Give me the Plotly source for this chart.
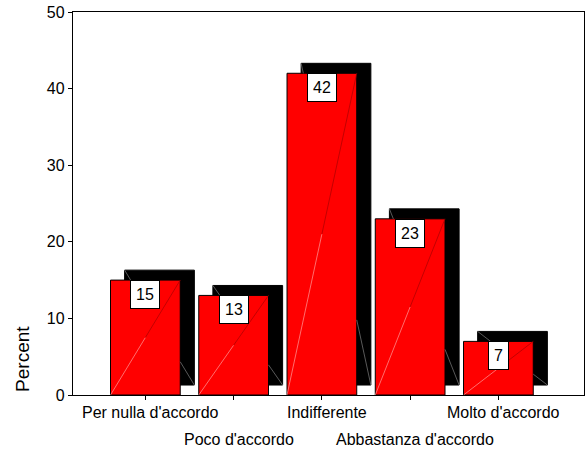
import plotly.graph_objects as go

# Data
categories = ["Per nulla d'accordo", "Poco d'accordo", "Indifferente",
              "Abbastanza d'accordo", "Molto d'accordo"]
percent = [15, 13, 42, 23, 7]
y_ticks = [0, 10, 20, 30, 40, 50]

# Style
bar_red = '#ff0000'
font_fam = 'Arial, Liberation Sans, sans-serif'
bar_w = 0.79          # bar width in category units
dx, dy = 0.16, 1.3    # shadow offset (x in category units, y in percent)

idx = list(range(len(categories)))

fig = go.Figure()

# Black "3D" shadow behind each bar
fig.add_bar(x=idx, y=percent, base=dy, offset=-bar_w / 2 + dx, width=bar_w,
            marker=dict(color='black', line=dict(color='black', width=1)),
            hoverinfo='skip')

# Red bars
fig.add_bar(x=idx, y=percent, width=bar_w,
            marker=dict(color=bar_red, line=dict(color='black', width=1)),
            hovertemplate='%{y}%<extra></extra>')

# Grey diagonal of the shadow box (top-left -> bottom-right),
# only the parts that stick out from behind the red bar
sx, sy = [], []
for i, v in zip(idx, percent):
    xs0 = i - bar_w / 2 + dx
    def pt(t):
        return xs0 + t * bar_w, v + dy - t * v
    t_top = dy / v
    t_right = (bar_w - dx) / bar_w
    for a, b in [(0, t_top), (t_right, 1)]:
        xa, ya = pt(a)
        xb, yb = pt(b)
        sx += [xa, xb, None]
        sy += [ya, yb, None]
fig.add_scatter(x=sx, y=sy, mode='lines', line=dict(color='#808080', width=0.7),
                hoverinfo='skip')

# Thin diagonal inside the red bars (pinkish lower half, dark upper half)
lx, ly, ux, uy = [], [], [], []
for i, v in zip(idx, percent):
    x0, x1 = i - bar_w / 2, i + bar_w / 2
    xm = (x0 + x1) / 2
    lx += [x0, xm, None]
    ly += [0, v / 2, None]
    ux += [xm, x1, None]
    uy += [v / 2, v, None]
fig.add_scatter(x=lx, y=ly, mode='lines', line=dict(color='#ff9c9c', width=0.7),
                hoverinfo='skip')
fig.add_scatter(x=ux, y=uy, mode='lines', line=dict(color='#a80000', width=0.7),
                hoverinfo='skip')

# Value boxes at the top of each bar
for i, v in zip(idx, percent):
    fig.add_annotation(x=i, y=v, text=str(v), showarrow=False,
                       xanchor='center', yanchor='top', yshift=0,
                       font=dict(family=font_fam, size=16, color='black'),
                       bgcolor='white', bordercolor='black', borderwidth=1,
                       borderpad=5)

# Staggered category labels
for i, lab in zip(idx, categories):
    fig.add_annotation(x=i, y=0, xref='x', yref='paper', text=lab,
                       showarrow=False, xanchor='center', yanchor='top',
                       xshift=5, yshift=-7 if i % 2 == 0 else -34,
                       font=dict(family=font_fam, size=16, color='black'))

# Y axis title placed low, as in the original
fig.add_annotation(x=-0.098, y=0.094, xref='paper', yref='paper', text='Percent',
                   textangle=-90, showarrow=False, xanchor='center', yanchor='middle',
                   font=dict(family=font_fam, size=19, color='black'))

fig.update_layout(
    barmode='overlay', showlegend=False,
    width=587, height=453,
    margin=dict(l=73, r=3, t=12, b=58),
    plot_bgcolor='white', paper_bgcolor='white',
    font=dict(family=font_fam, color='black'),
    xaxis=dict(range=[-0.82, 4.97], tickvals=idx, showticklabels=False,
               ticks='outside', ticklen=4, tickcolor='black',
               showline=True, linecolor='black', linewidth=1.3, mirror=True,
               showgrid=False, zeroline=False, fixedrange=True),
    yaxis=dict(range=[0, 50], tickvals=y_ticks,
               ticks='outside', ticklen=4, tickcolor='black',
               tickfont=dict(family=font_fam, size=16, color='black'),
               showline=True, linecolor='black', linewidth=1.3, mirror=True,
               showgrid=False, zeroline=False, fixedrange=True),
)

fig.write_html("out.html", config={'displayModeBar': False},
               post_script="document.body.style.margin='0';")
